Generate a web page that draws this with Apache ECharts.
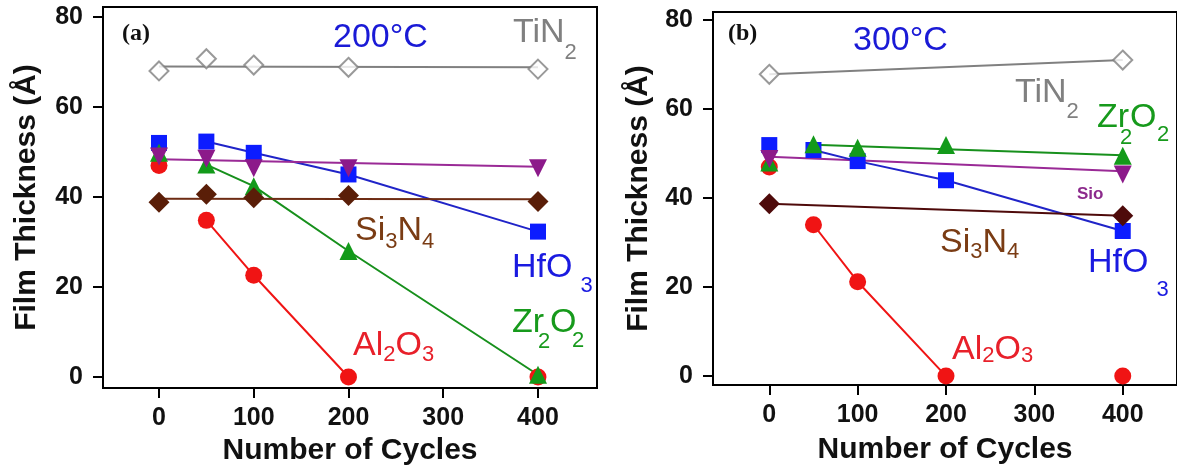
<!DOCTYPE html>
<html><head><meta charset="utf-8">
<script src="https://cdn.jsdelivr.net/npm/echarts@6/dist/echarts.min.js"></script>
<style>html,body{margin:0;padding:0;background:#fff}#c{width:1177px;height:472px}</style>
</head><body><div id="c"></div>
<script>
// ---- tick values ----
const xTicks = [0, 100, 200, 300, 400];
const yTicks = [0, 20, 40, 60, 80];
const cycles = [0, 50, 100, 200, 400];
const cyclesEnds = [0, 400];

// ---- panel (a) 200°C ----
const tinA = [68, 70.7, 69.3, 68.8, 68.4];
const tinFitA = [69.0, 68.8];           // straight line at 0 and 400
const hfoA = [52, 52.3, 49.8, 45, 32.3];
const sioA = [49, 48.5, 46.4, 46.4, 46.4];
const sioFitA = [48.4, 46.7];
const si3n4A = [38.8, 40.6, 39.8, 40.3, 39.0];
const si3n4FitA = [39.6, 39.5];
const al2o3A = [47, 34.8, 22.6, 0, 0];
const zro2A = [49.8, 47.2, 42.4, 28, 0.5];

// ---- panel (b) 300°C ----
const tinB = [67.8, 71];                 // at 0 and 400
const hfoB = [51.9, 50.8, 48.3, 44, 32.6];
const zro2B = [48, 52.1, 51.3, 51.9, 49.5];
const zro2FitCycles = [50, 400];
const zro2FitB = [52, 49.6];
const sioB = [48.8, 45.3];               // at 0 and 400
const sioFitB = [49.3, 46.0];
const si3n4B = [38.7, 36];               // at 0 and 400
const al2o3B = [47, 34, 21.2, 0, 0];

const F = '"Liberation Sans", Arial, sans-serif';
const C = {
  tin: '#808080', hfo: '#0c1cff', hfoLine: '#2024c8', sio: '#8c1a8a', sioLine: '#9a2a96',
  si3n4A: '#5a1e08', si3n4LineA: '#6e2c14', si3n4B: '#4e0a0a',
  al: '#f01414', zr: '#139a1a', zrLine: '#17901c'
};
const pts = (xs, ys) => xs.map((x, i) => [x, ys[i]]);

function lineS(g, data, color) {
  return { type: 'line', xAxisIndex: g, yAxisIndex: g, data, symbol: 'none', showSymbol: false,
    lineStyle: { color, width: 2 }, silent: true, z: 2 };
}
function dotS(g, data, symbol, size, color, extra) {
  return Object.assign({ type: 'scatter', xAxisIndex: g, yAxisIndex: g, data, symbol, symbolSize: size,
    itemStyle: { color, opacity: 1 }, silent: true, z: 3 }, extra || {});
}

const series = [
  // panel a lines
  lineS(0, pts(cyclesEnds, tinFitA), C.tin),
  lineS(0, pts(cycles, al2o3A).slice(1, 4), C.al),
  lineS(0, pts(cycles, hfoA).slice(1), C.hfoLine),
  lineS(0, pts(cycles, zro2A).slice(1), C.zrLine),
  lineS(0, pts(cyclesEnds, sioFitA), C.sioLine),
  lineS(0, pts(cyclesEnds, si3n4FitA), C.si3n4LineA),
  // panel a markers
  dotS(0, pts(cycles, al2o3A), 'circle', 17, C.al),
  dotS(0, pts(cycles, hfoA), 'rect', 16, C.hfo),
  dotS(0, pts(cycles, zro2A), 'triangle', 18, C.zr),
  dotS(0, pts(cycles, sioA), 'triangle', 18, C.sio, { symbolRotate: 180 }),
  dotS(0, pts(cycles, si3n4A), 'diamond', 21, C.si3n4A),
  dotS(0, pts(cycles, tinA), 'diamond', 19, '#fff', { itemStyle: { color: '#fff', borderColor: C.tin, borderWidth: 2 } }),
  // panel b lines
  lineS(1, pts(cyclesEnds, tinB), C.tin),
  lineS(1, pts(cycles, al2o3B).slice(1, 4), C.al),
  lineS(1, pts(zro2FitCycles, zro2FitB), C.zrLine),
  lineS(1, pts(cyclesEnds, sioFitB), C.sioLine),
  lineS(1, pts(cycles, hfoB).slice(1), C.hfoLine),
  lineS(1, pts(cyclesEnds, si3n4B), C.si3n4B),
  // panel b markers
  dotS(1, pts(cycles, al2o3B), 'circle', 17, C.al),
  dotS(1, pts(cycles, hfoB), 'rect', 16, C.hfo),
  dotS(1, pts(cycles, zro2B), 'triangle', 18, C.zr),
  dotS(1, pts(cyclesEnds, sioB), 'triangle', 18, C.sio, { symbolRotate: 180 }),
  dotS(1, pts(cyclesEnds, si3n4B), 'diamond', 21, C.si3n4B),
  dotS(1, pts(cyclesEnds, tinB), 'diamond', 19, '#fff', { itemStyle: { color: '#fff', borderColor: C.tin, borderWidth: 2 } })
];

function xAx(g, min, max, gap) {
  return { type: 'value', gridIndex: g, min, max, name: 'Number of Cycles', nameLocation: 'middle', nameGap: gap,
    nameTextStyle: { fontFamily: F, fontWeight: 'bold', fontSize: 30, color: '#111' },
    axisLine: { show: true, onZero: false, lineStyle: { color: '#000', width: 2 } },
    axisTick: { show: true, length: 10, customValues: xTicks, lineStyle: { color: '#000', width: 2 } },
    axisLabel: { customValues: xTicks, fontFamily: F, fontWeight: 'bold', fontSize: 25, color: '#111', margin: 18 },
    splitLine: { show: false } };
}
function yAx(g, min, max, gap) {
  return { type: 'value', gridIndex: g, min, max, name: 'Film Thickness (Å)', nameLocation: 'middle', nameGap: gap,
    nameRotate: 90,
    nameTextStyle: { fontFamily: F, fontWeight: 'bold', fontSize: 30, color: '#111' },
    axisLine: { show: true, onZero: false, lineStyle: { color: '#000', width: 2 } },
    axisTick: { show: true, length: 10, customValues: yTicks, lineStyle: { color: '#000', width: 2 } },
    axisLabel: { customValues: yTicks, fontFamily: F, fontWeight: 'bold', fontSize: 25, color: '#111', margin: 20 },
    splitLine: { show: false } };
}

function chem(x, y, parts, color, drop, padL) {
  const text = parts.map(p => '{' + (p[1] ? 's' : 'm') + '|' + p[0] + '}').join('');
  return { type: 'text', x, y, z: 100, silent: true,
    style: { text, fill: color, align: 'left', verticalAlign: 'top',
      rich: {
        m: { fontFamily: F, fontSize: 34, lineHeight: 34, verticalAlign: 'top', fill: color },
        s: { fontFamily: F, fontSize: 22, lineHeight: 22, verticalAlign: 'top', fill: color, padding: [drop, 0, 0, padL || 0] }
      } } };
}
function txt(x, y, text, color, size, weight, family, va) {
  return { type: 'text', x, y, z: 100, silent: true,
    style: { text, fill: color, fontSize: size, fontWeight: weight || 'normal', fontFamily: family || F,
      align: 'left', verticalAlign: va || 'top' } };
}
const SERIF = '"Liberation Serif", "Times New Roman", serif';
const graphic = [
  // panel a
  txt(122, 34, '(a)', '#111', 24, 'bold', SERIF, 'middle'),
  txt(333, 20.6, '200°C', '#1a1ad6', 34),
  chem(513, 15.6, [['TiN'], ['2', 1]], C.tin, 26),
  chem(355, 213.6, [['Si'], ['3', 1], ['N'], ['4', 1]], '#7a3c14', 17),
  chem(512, 250.6, [['HfO'], ['3', 1]], '#1a1ae0', 24.4, 8),
  chem(353, 328.6, [['Al'], ['2', 1], ['O'], ['3', 1]], '#e8202a', 15.4),
  txt(512, 305.6, 'Zr', '#179a1c', 34),
  txt(538, 341.5, '2', '#179a1c', 22, 'normal', F, 'middle'),
  txt(550, 305.6, 'O', '#179a1c', 34),
  txt(572, 340.5, '2', '#179a1c', 22, 'normal', F, 'middle'),
  // panel b
  txt(728, 34, '(b)', '#111', 24, 'bold', SERIF, 'middle'),
  txt(853, 23.6, '300°C', '#1a1ad6', 34),
  chem(1015, 75.6, [['TiN'], ['2', 1]], C.tin, 25.4),
  txt(1097, 100.6, 'Zr', '#179a1c', 34),
  txt(1120, 137.5, '2', '#179a1c', 22, 'normal', F, 'middle'),
  txt(1130, 100.6, 'O', '#179a1c', 34),
  txt(1157, 134.5, '2', '#179a1c', 22, 'normal', F, 'middle'),
  txt(1077, 194.5, 'Sio', '#8c2a8c', 17, 'bold', F, 'middle'),
  chem(940, 225.6, [['Si'], ['3', 1], ['N'], ['4', 1]], '#7a3c14', 15.4),
  chem(1088, 245.6, [['HfO'], ['3', 1]], '#1a1ae0', 32.9, 8),
  chem(952, 332.6, [['Al'], ['2', 1], ['O'], ['3', 1]], '#e8202a', 12.4)
];

const chart = echarts.init(document.getElementById('c'), null, { renderer: 'canvas' });
chart.setOption({
  animation: false,
  backgroundColor: '#fff',
  grid: [
    { left: 103, top: 7, width: 494, height: 381, show: true, borderColor: '#000', borderWidth: 2, containLabel: false },
    { left: 713, top: 12, width: 470, height: 373, show: true, borderColor: '#000', borderWidth: 2, containLabel: false }
  ],
  xAxis: [xAx(0, -59.1, 462.3, 47), xAx(1, -63.7, 461.4, 50)],
  yAxis: [yAx(0, -2.44, 82.2, 61), yAx(1, -2.0, 81.8, 59)],
  series,
  graphic
});
</script>
</body></html>
